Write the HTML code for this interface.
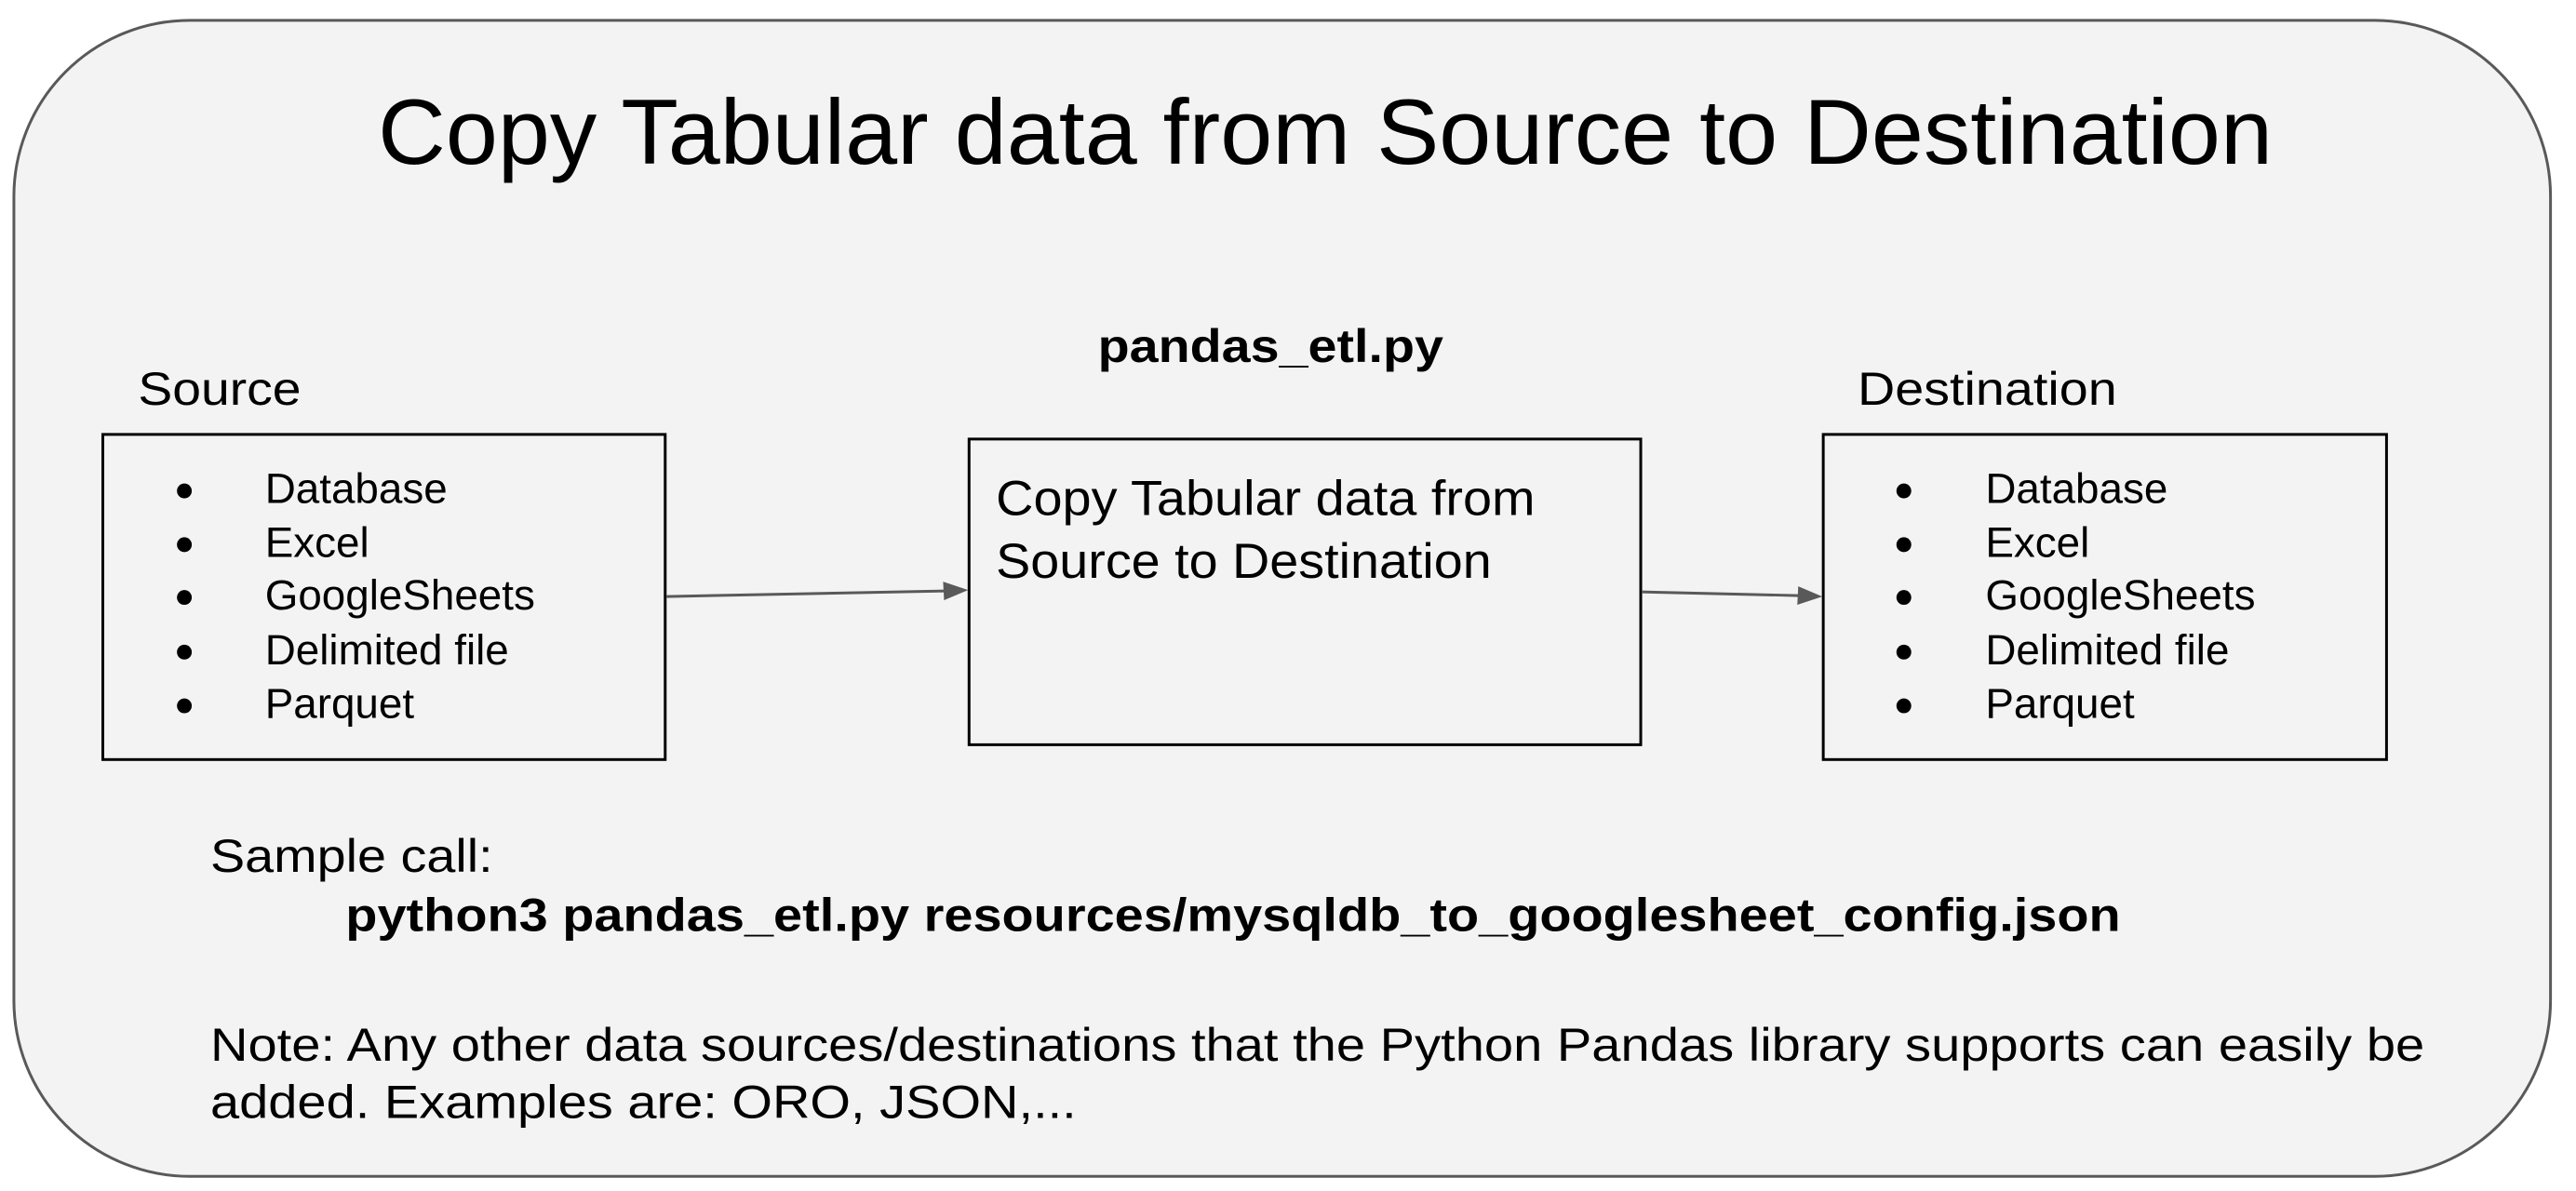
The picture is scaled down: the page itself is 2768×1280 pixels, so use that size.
<!DOCTYPE html>
<html><head><meta charset="utf-8"><style>html,body{margin:0;padding:0;background:#fff}svg{display:block}</style></head>
<body>
<svg width="2768" height="1280" viewBox="0 0 2768 1280" xmlns="http://www.w3.org/2000/svg" font-family="Liberation Sans, Arial, sans-serif" fill="#000">
<g transform="scale(0.9955)">
<rect x="15" y="22" width="2738" height="1248" rx="190" ry="190" fill="#f3f3f3" stroke="#595959" stroke-width="3"/>
<text x="408" y="177" font-size="100" textLength="2045" lengthAdjust="spacingAndGlyphs">Copy Tabular data from Source to Destination</text>
<text x="1185" y="391" font-size="50" font-weight="bold" textLength="373" lengthAdjust="spacingAndGlyphs">pandas_etl.py</text>
<text x="149" y="437" font-size="50" textLength="176" lengthAdjust="spacingAndGlyphs">Source</text>
<text x="2005" y="437" font-size="50" textLength="280" lengthAdjust="spacingAndGlyphs">Destination</text>
<rect x="111" y="469" width="607" height="351" fill="#f3f3f3" stroke="#000" stroke-width="3"/>
<rect x="1046" y="474" width="725" height="330" fill="#f3f3f3" stroke="#000" stroke-width="3"/>
<rect x="1968" y="469" width="608" height="351" fill="#f3f3f3" stroke="#000" stroke-width="3"/>
<g font-size="46">
<g fill="#000"><circle cx="199" cy="530" r="8"/><circle cx="199" cy="588" r="8"/><circle cx="199" cy="645" r="8"/><circle cx="199" cy="704" r="8"/><circle cx="199" cy="762" r="8"/>
<circle cx="2055" cy="530" r="8"/><circle cx="2055" cy="588" r="8"/><circle cx="2055" cy="645" r="8"/><circle cx="2055" cy="704" r="8"/><circle cx="2055" cy="762" r="8"/></g>
<text x="286" y="543">Database</text><text x="286" y="601">Excel</text><text x="286" y="658">GoogleSheets</text><text x="286" y="717">Delimited file</text><text x="286" y="775">Parquet</text>
<text x="2143" y="543">Database</text><text x="2143" y="601">Excel</text><text x="2143" y="658">GoogleSheets</text><text x="2143" y="717">Delimited file</text><text x="2143" y="775">Parquet</text>
</g>
<text x="1075" y="556" font-size="53" textLength="582" lengthAdjust="spacingAndGlyphs">Copy Tabular data from</text>
<text x="1075" y="624" font-size="53" textLength="535" lengthAdjust="spacingAndGlyphs">Source to Destination</text>
<line x1="719" y1="644" x2="1020" y2="638" stroke="#595959" stroke-width="3"/>
<polygon points="1045,637 1018,628 1019,648" fill="#595959"/>
<line x1="1772" y1="639" x2="1942" y2="643" stroke="#595959" stroke-width="3"/>
<polygon points="1967,644 1941,633 1940,653" fill="#595959"/>
<text x="227" y="941" font-size="50" textLength="305" lengthAdjust="spacingAndGlyphs">Sample call:</text>
<text x="373" y="1005" font-size="50" font-weight="bold" textLength="1916" lengthAdjust="spacingAndGlyphs">python3 pandas_etl.py resources/mysqldb_to_googlesheet_config.json</text>
<text x="227" y="1145" font-size="50" textLength="2390" lengthAdjust="spacingAndGlyphs">Note: Any other data sources/destinations that the Python Pandas library supports can easily be</text>
<text x="227" y="1207" font-size="50" textLength="935" lengthAdjust="spacingAndGlyphs">added. Examples are: ORO, JSON,...</text>
</g>
</svg>
</body></html>
